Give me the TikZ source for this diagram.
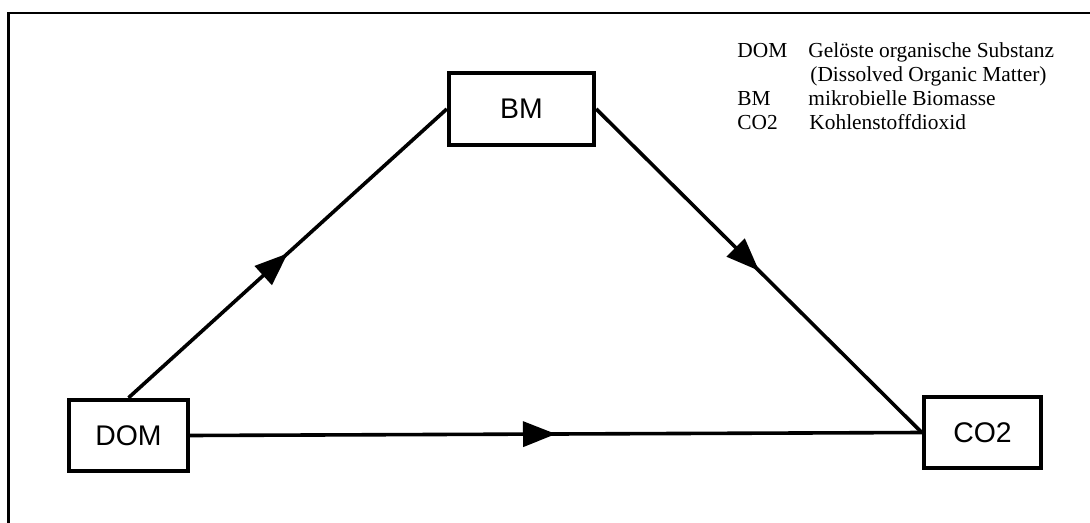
\documentclass[tikz,border=0pt]{standalone}
\usepackage{fontspec}
\setmainfont{Liberation Serif}
\newfontfamily\boxfont{Liberation Sans}
\usetikzlibrary{arrows.meta,decorations.markings}
\begin{document}
\begin{tikzpicture}[x=0.5pt,y=-0.5pt,
  box/.style={draw, line width=2.2pt, inner sep=0pt, font=\boxfont\fontsize{14.2}{16}\selectfont},
  flow/.style={line width=1.8pt, postaction={decorate}, decoration={markings, mark=at position 0.5 with {\arrow{Triangle[length=16.5pt,width=12.5pt]}}}},
  legend/.style={anchor=base west, inner sep=0pt, font=\fontsize{10.7}{12}\selectfont}]
\useasboundingbox (0,0) rectangle (1090,523);
\draw[line width=1.2pt] (8.5,523) -- (8.5,13) -- (1090,13);
\node[box, minimum width=59.5pt, minimum height=35.5pt] (dom) at (128.5,435.5) {DOM};
\node[box, minimum width=72.5pt, minimum height=36pt] (bm) at (521.5,109) {BM};
\node[box, minimum width=58.5pt, minimum height=35.5pt] (co2) at (982.5,432.5) {CO2};
\draw[flow] (dom.north) -- (bm.west);
\draw[flow] (bm.east) -- (co2.west);
\draw[flow] (dom.east) -- (co2.west);
\node[legend] (l1) at (737,58) {DOM};
\node[legend] (t1) at (808,58) {Gelöste organische Substanz};
\node[legend] (t1b) at (810,82) {(Dissolved Organic Matter)};
\node[legend] (l2) at (737,106) {BM};
\node[legend] (t2) at (808,106) {mikrobielle Biomasse};
\node[legend] (l3) at (737,130) {CO2};
\node[legend] (t3) at (809,130) {Kohlenstoffdioxid};
\end{tikzpicture}
\end{document}
